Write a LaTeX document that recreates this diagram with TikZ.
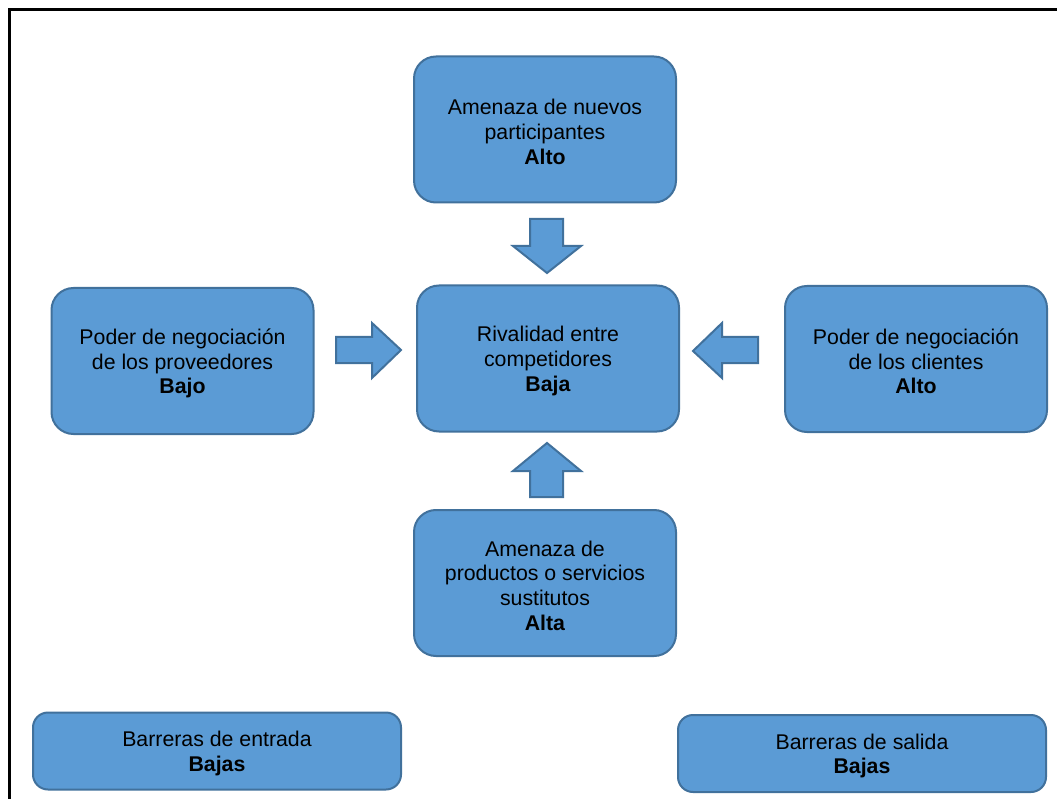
\documentclass[tikz,border=0pt]{standalone}
\usepackage{fontspec}
\setmainfont{Liberation Sans}
\definecolor{boxfill}{HTML}{5B9BD5}
\definecolor{boxline}{HTML}{41719C}
\begin{document}
\begin{tikzpicture}[x=1pt,y=-1pt,
  txt/.style={align=center, font=\fontsize{21.3}{24.7}\selectfont, inner sep=0pt, yshift=-2.5pt},
  force/.style={draw=boxline, fill=boxfill, line width=2pt, rounded corners=22pt,
    minimum width=262pt, minimum height=146pt, inner sep=0pt,
    label={[txt]center:#1}},
  barrier/.style={force=#1, rounded corners=15pt, minimum width=368pt, minimum height=77pt},
  blockarrow/.style={draw=boxline, fill=boxfill, line width=2pt, line join=miter}]
\clip (0,0) rectangle (1057,799);
\fill[white] (0,0) rectangle (1057,799);
\draw[line width=3pt] (9.5,820) -- (9.5,9.5) -- (1080,9.5);

\node[force={Amenaza de nuevos\\participantes\\\textbf{Alto}}] (nuevos) at (545,129.5) {};
\node[force={Poder de negociación\\de los proveedores\\\textbf{Bajo}}] (proveedores) at (182.5,361) {};
\node[force={Rivalidad entre\\competidores\\\textbf{Baja}}] (rivalidad) at (548,358.5) {};
\node[force={Poder de negociación\\de los clientes\\\textbf{Alto}}] (clientes) at (916,359) {};
\node[force={Amenaza de\\productos o servicios\\sustitutos\\\textbf{Alta}}] (sustitutos) at (545,583) {};
\node[barrier={Barreras de entrada\\\textbf{Bajas}}] (entrada) at (217,751) {};
\node[barrier={Barreras de salida\\\textbf{Bajas}}] (salida) at (862,753.5) {};

% block arrows
\draw[blockarrow] (530,219) -- (563,219) -- (563,246) -- (581,246) -- (547,273) -- (513,246) -- (530,246) -- cycle;
\draw[blockarrow] (336,337) -- (372,337) -- (372,323) -- (401,350) -- (372,378) -- (372,363) -- (336,363) -- cycle;
\draw[blockarrow] (758,337) -- (722,337) -- (722,323) -- (693,351) -- (722,378) -- (722,363) -- (758,363) -- cycle;
\draw[blockarrow] (530,497) -- (563,497) -- (563,471) -- (581,471) -- (547,443) -- (513,471) -- (530,471) -- cycle;
\end{tikzpicture}
\end{document}
